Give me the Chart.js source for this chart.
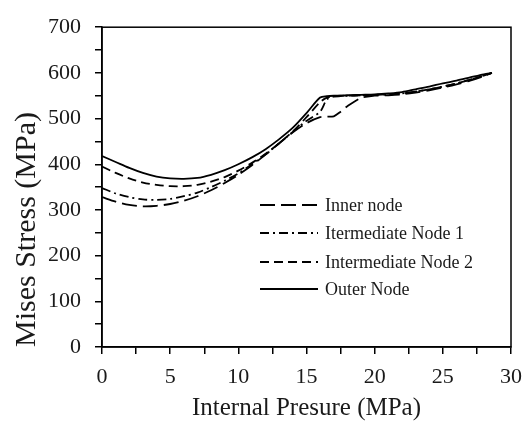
<!DOCTYPE html>
<html lang="en">
<head>
    <meta charset="UTF-8">
    <title>Mises Stress vs Internal Pressure</title>
    <style>
        body {
            margin: 0;
            padding: 0;
            background: #ffffff;
        }
        .chart-box {
            width: 528px;
            height: 421px;
        }
    </style>
</head>
<body>
    <div class="chart-box">
        <canvas id="chart" width="528" height="421"></canvas>
    </div>
    <script src="https://cdn.jsdelivr.net/npm/chart.js"></script>
    <script>
        // internal pressure (MPa)
        const pressure = [0, 1, 2, 3, 4, 5, 6, 7, 8, 9, 10, 11, 12, 13, 14, 15, 16, 16.5, 17, 17.5, 18, 19, 20, 21, 22, 23, 24, 25, 26, 27, 28, 28.6];

        // Mises stress (MPa) per node
        const innerNode = [328, 318, 311, 308, 309, 313, 320, 330, 343, 359, 377, 398, 421, 446, 470, 490, 503, 504, 505, 515, 527, 545, 550, 551, 553, 557, 562, 568, 575, 583, 593, 600];
        const intermediateNode1 = [348, 336, 328, 323, 322, 324, 330, 338, 350, 364, 380, 400, 422, 446, 471, 495, 515, 542, 548, 549, 550, 551, 552, 553, 555, 559, 564, 570, 577, 585, 594, 600];
        const intermediateNode2 = [395, 381, 369, 360, 355, 352, 352, 355, 362, 372, 386, 403, 423, 446, 472, 503, 536, 546, 549, 550, 550, 551, 552, 553, 555, 559, 564, 570, 577, 585, 594, 600];
        const outerNode = [418, 405, 392, 381, 373, 369, 368, 370, 377, 387, 400, 415, 433, 455, 480, 512, 546, 549, 550, 550, 551, 552, 553, 555, 558, 564, 570, 577, 583, 590, 597, 600];

        const seriesNames = ['Inner node', 'Itermediate Node 1', 'Intermediate Node 2', 'Outer Node'];
        const seriesDash = [[15, 6], [9, 4, 2, 4], [9, 5], []];
        const seriesValues = [innerNode, intermediateNode1, intermediateNode2, outerNode];

        const serif = '"Liberation Serif", "Times New Roman", serif';

        function toPoints(values) {
            return values.map((v, i) => ({ x: pressure[i], y: v }));
        }

        // frame around plot + legend inside plot
        const framePlugin = {
            id: 'frame',
            afterDraw(chart) {
                const ctx = chart.ctx;
                const a = chart.chartArea;
                ctx.save();
                ctx.strokeStyle = '#000';
                ctx.lineWidth = 1.5;
                ctx.strokeRect(a.left, a.top, a.right - a.left, a.bottom - a.top);

                // legend
                const x0 = 260, x1 = 318, rows = [205, 233, 262, 289];
                ctx.font = '18px ' + serif;
                ctx.textBaseline = 'middle';
                ctx.fillStyle = '#1a1a1a';
                seriesNames.forEach((name, i) => {
                    ctx.beginPath();
                    ctx.setLineDash(seriesDash[i]);
                    ctx.lineWidth = 2;
                    ctx.moveTo(x0, rows[i]);
                    ctx.lineTo(x1, rows[i]);
                    ctx.stroke();
                    ctx.setLineDash([]);
                    ctx.fillText(name, 325, rows[i] + 1);
                });
                ctx.restore();
            }
        };

        new Chart(document.getElementById('chart').getContext('2d'), {
            type: 'line',
            data: {
                datasets: seriesNames.map((name, i) => ({
                    label: name,
                    data: toPoints(seriesValues[i]),
                    borderColor: '#000',
                    borderWidth: 1.8,
                    borderDash: seriesDash[i],
                    pointRadius: 0,
                    tension: 0.3,
                    fill: false
                }))
            },
            options: {
                responsive: false,
                animation: false,
                layout: {
                    padding: { left: 0, top: 21, right: 17, bottom: 0 }
                },
                plugins: {
                    legend: { display: false },
                    tooltip: { enabled: false }
                },
                scales: {
                    x: {
                        type: 'linear',
                        min: 0,
                        max: 30,
                        afterFit(scale) {
                            scale.height = 74;
                            scale.paddingLeft = 0;
                            scale.paddingRight = 0;
                        },
                        border: { display: true, color: '#000', width: 1.5 },
                        grid: {
                            display: true,
                            drawOnChartArea: false,
                            drawTicks: true,
                            tickLength: 7,
                            color: '#000',
                            lineWidth: 1.5
                        },
                        ticks: {
                            stepSize: 2.5,
                            autoSkip: false,
                            maxRotation: 0,
                            color: '#1a1a1a',
                            padding: 10,
                            font: { family: serif, size: 22 },
                            callback: (v) => (v % 5 === 0 ? v : '')
                        },
                        title: {
                            display: true,
                            text: 'Internal Presure (MPa)',
                            color: '#1a1a1a',
                            font: { family: serif, size: 25, lineHeight: 1 },
                            padding: { top: 0, bottom: 0 }
                        }
                    },
                    y: {
                        min: 0,
                        max: 700,
                        afterFit(scale) { scale.width = 102; },
                        border: { display: true, color: '#000', width: 1.5 },
                        grid: {
                            display: true,
                            drawOnChartArea: false,
                            drawTicks: true,
                            tickLength: 7,
                            color: '#000',
                            lineWidth: 1.5
                        },
                        ticks: {
                            stepSize: 50,
                            autoSkip: false,
                            color: '#1a1a1a',
                            padding: 14,
                            font: { family: serif, size: 22 },
                            callback: (v) => (v % 100 === 0 ? v : '')
                        },
                        title: {
                            display: true,
                            text: 'Mises Stress (MPa)',
                            align: 'start',
                            color: '#1a1a1a',
                            font: { family: serif, size: 30, lineHeight: 1 },
                            padding: { top: 12, bottom: 0 }
                        }
                    }
                }
            },
            plugins: [framePlugin]
        });
    </script>
</body>
</html>
